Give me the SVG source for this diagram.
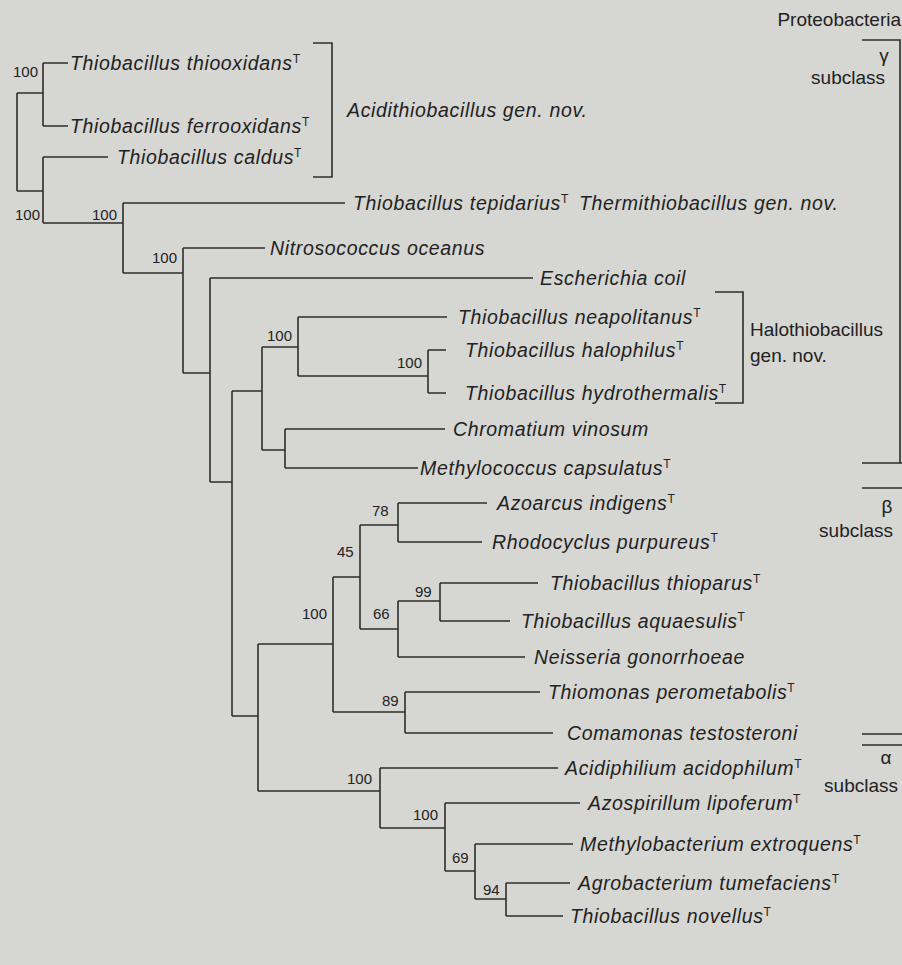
<svg xmlns="http://www.w3.org/2000/svg" width="902" height="965" viewBox="0 0 902 965">
<style>
text{font-family:"Liberation Sans",Arial,sans-serif;fill:#222}
.sp{font-size:19.5px;font-style:italic;letter-spacing:0.65px}
.up{font-size:19px}
.sup{font-size:12px;font-style:normal;letter-spacing:0}
.bs{font-size:15px}
.ln{fill:none;stroke:#2e2e2e;stroke-width:1.6}
</style>
<rect width="902" height="965" fill="#d6d6d3"/>
<g id="connectors" class="ln">
<path d="M17,93V191M17,93H43M17,191H43"/>
<path d="M43,63V126M43,63H68M43,126H68"/>
<path d="M43,157V223M43,157H108M43,223H123"/>
<path d="M123,203V273M123,203H345M123,273H183"/>
<path d="M183,248V373M183,248H265M183,373H210"/>
<path d="M210,278V482M210,278H533M210,482H232"/>
<path d="M232,391V716M232,391H262M232,716H258"/>
<path d="M262,347V450M262,347H298M262,450H285"/>
<path d="M298,317V376M298,317H447M298,376H428"/>
<path d="M428,350V393M428,350H446M428,393H446"/>
<path d="M285,429V468M285,429H445M285,468H418"/>
<path d="M258,644V791M258,644H333M258,791H380"/>
<path d="M333,577V712M333,577H360M333,712H405"/>
<path d="M360,525V629M360,525H398M360,629H398"/>
<path d="M398,503V542M398,503H487M398,542H482"/>
<path d="M398,601V657M398,601H440M398,657H525"/>
<path d="M440,583V621M440,583H538M440,621H510"/>
<path d="M405,692V733M405,692H540M405,733H553"/>
<path d="M380,768V828M380,768H558M380,828H445"/>
<path d="M445,803V871M445,803H580M445,871H475"/>
<path d="M475,844V899M475,844H573M475,899H506"/>
<path d="M506,883V916M506,883H570M506,916H563"/>
</g>
<g id="brackets" class="ln">
<path d="M313,43H332V177H313"/>
<path d="M715,292H743V403H715"/>
<path d="M862,40H900V463M862,463H902M862,488H902"/>
<path d="M862,734H902M862,745H902"/>
</g>
<g id="support">
<text class="bs" x="13" y="77">100</text>
<text class="bs" x="15" y="220">100</text>
<text class="bs" x="92" y="220">100</text>
<text class="bs" x="152" y="263">100</text>
<text class="bs" x="267" y="341">100</text>
<text class="bs" x="397" y="368">100</text>
<text class="bs" x="372" y="516">78</text>
<text class="bs" x="337" y="557">45</text>
<text class="bs" x="302" y="619">100</text>
<text class="bs" x="415" y="597">99</text>
<text class="bs" x="373" y="619">66</text>
<text class="bs" x="382" y="706">89</text>
<text class="bs" x="347" y="784">100</text>
<text class="bs" x="413" y="820">100</text>
<text class="bs" x="452" y="863">69</text>
<text class="bs" x="483" y="895">94</text>
</g>
<g id="leaf-thiooxidans"><text class="sp" x="70" y="70">Thiobacillus thiooxidans<tspan class="sup" dy="-7">T</tspan></text></g>
<g id="leaf-ferrooxidans"><text class="sp" x="70" y="133">Thiobacillus ferrooxidans<tspan class="sup" dy="-7">T</tspan></text></g>
<g id="leaf-caldus"><text class="sp" x="117" y="164">Thiobacillus caldus<tspan class="sup" dy="-7">T</tspan></text></g>
<g id="leaf-tepidarius"><text class="sp" x="353" y="210">Thiobacillus tepidarius<tspan class="sup" dy="-7">T</tspan></text><text class="sp" x="579" y="210">Thermithiobacillus gen. nov.</text></g>
<g id="leaf-nitrosococcus"><text class="sp" x="270" y="255">Nitrosococcus oceanus</text></g>
<g id="leaf-escherichia"><text class="sp" x="540" y="285">Escherichia coil</text></g>
<g id="leaf-neapolitanus"><text class="sp" x="458" y="324">Thiobacillus neapolitanus<tspan class="sup" dy="-7">T</tspan></text></g>
<g id="leaf-halophilus"><text class="sp" x="465" y="357">Thiobacillus halophilus<tspan class="sup" dy="-7">T</tspan></text></g>
<g id="leaf-hydrothermalis"><text class="sp" x="465" y="400">Thiobacillus hydrothermalis<tspan class="sup" dy="-7">T</tspan></text></g>
<g id="leaf-chromatium"><text class="sp" x="453" y="436">Chromatium vinosum</text></g>
<g id="leaf-methylococcus"><text class="sp" x="420" y="475">Methylococcus capsulatus<tspan class="sup" dy="-7">T</tspan></text></g>
<g id="leaf-azoarcus"><text class="sp" x="497" y="510">Azoarcus indigens<tspan class="sup" dy="-7">T</tspan></text></g>
<g id="leaf-rhodocyclus"><text class="sp" x="492" y="549">Rhodocyclus purpureus<tspan class="sup" dy="-7">T</tspan></text></g>
<g id="leaf-thioparus"><text class="sp" x="550" y="590">Thiobacillus thioparus<tspan class="sup" dy="-7">T</tspan></text></g>
<g id="leaf-aquaesulis"><text class="sp" x="521" y="628">Thiobacillus aquaesulis<tspan class="sup" dy="-7">T</tspan></text></g>
<g id="leaf-neisseria"><text class="sp" x="534" y="664">Neisseria gonorrhoeae</text></g>
<g id="leaf-thiomonas"><text class="sp" x="548" y="699">Thiomonas perometabolis<tspan class="sup" dy="-7">T</tspan></text></g>
<g id="leaf-comamonas"><text class="sp" x="567" y="740">Comamonas testosteroni</text></g>
<g id="leaf-acidiphilium"><text class="sp" x="565" y="775">Acidiphilium acidophilum<tspan class="sup" dy="-7">T</tspan></text></g>
<g id="leaf-azospirillum"><text class="sp" x="588" y="810">Azospirillum lipoferum<tspan class="sup" dy="-7">T</tspan></text></g>
<g id="leaf-methylobacterium"><text class="sp" x="580" y="851">Methylobacterium extroquens<tspan class="sup" dy="-7">T</tspan></text></g>
<g id="leaf-agrobacterium"><text class="sp" x="578" y="890">Agrobacterium tumefaciens<tspan class="sup" dy="-7">T</tspan></text></g>
<g id="leaf-novellus"><text class="sp" x="570" y="923">Thiobacillus novellus<tspan class="sup" dy="-7">T</tspan></text></g>
<g id="label-acidithiobacillus"><text class="sp" x="347" y="117">Acidithiobacillus gen. nov.</text></g>
<g id="label-halothiobacillus"><text class="up" x="750" y="336">Halothiobacillus</text><text class="up" x="750" y="362">gen. nov.</text></g>
<g id="label-proteobacteria"><text class="up" x="901" y="26" text-anchor="end">Proteobacteria</text></g>
<g id="label-gamma"><text class="up" x="884" y="62" text-anchor="middle">γ</text><text class="up" x="885" y="84" text-anchor="end">subclass</text></g>
<g id="label-beta"><text class="up" x="887" y="513" text-anchor="middle">β</text><text class="up" x="893" y="537" text-anchor="end">subclass</text></g>
<g id="label-alpha"><text class="up" x="886" y="764" text-anchor="middle">α</text><text class="up" x="898" y="792" text-anchor="end">subclass</text></g>
</svg>
